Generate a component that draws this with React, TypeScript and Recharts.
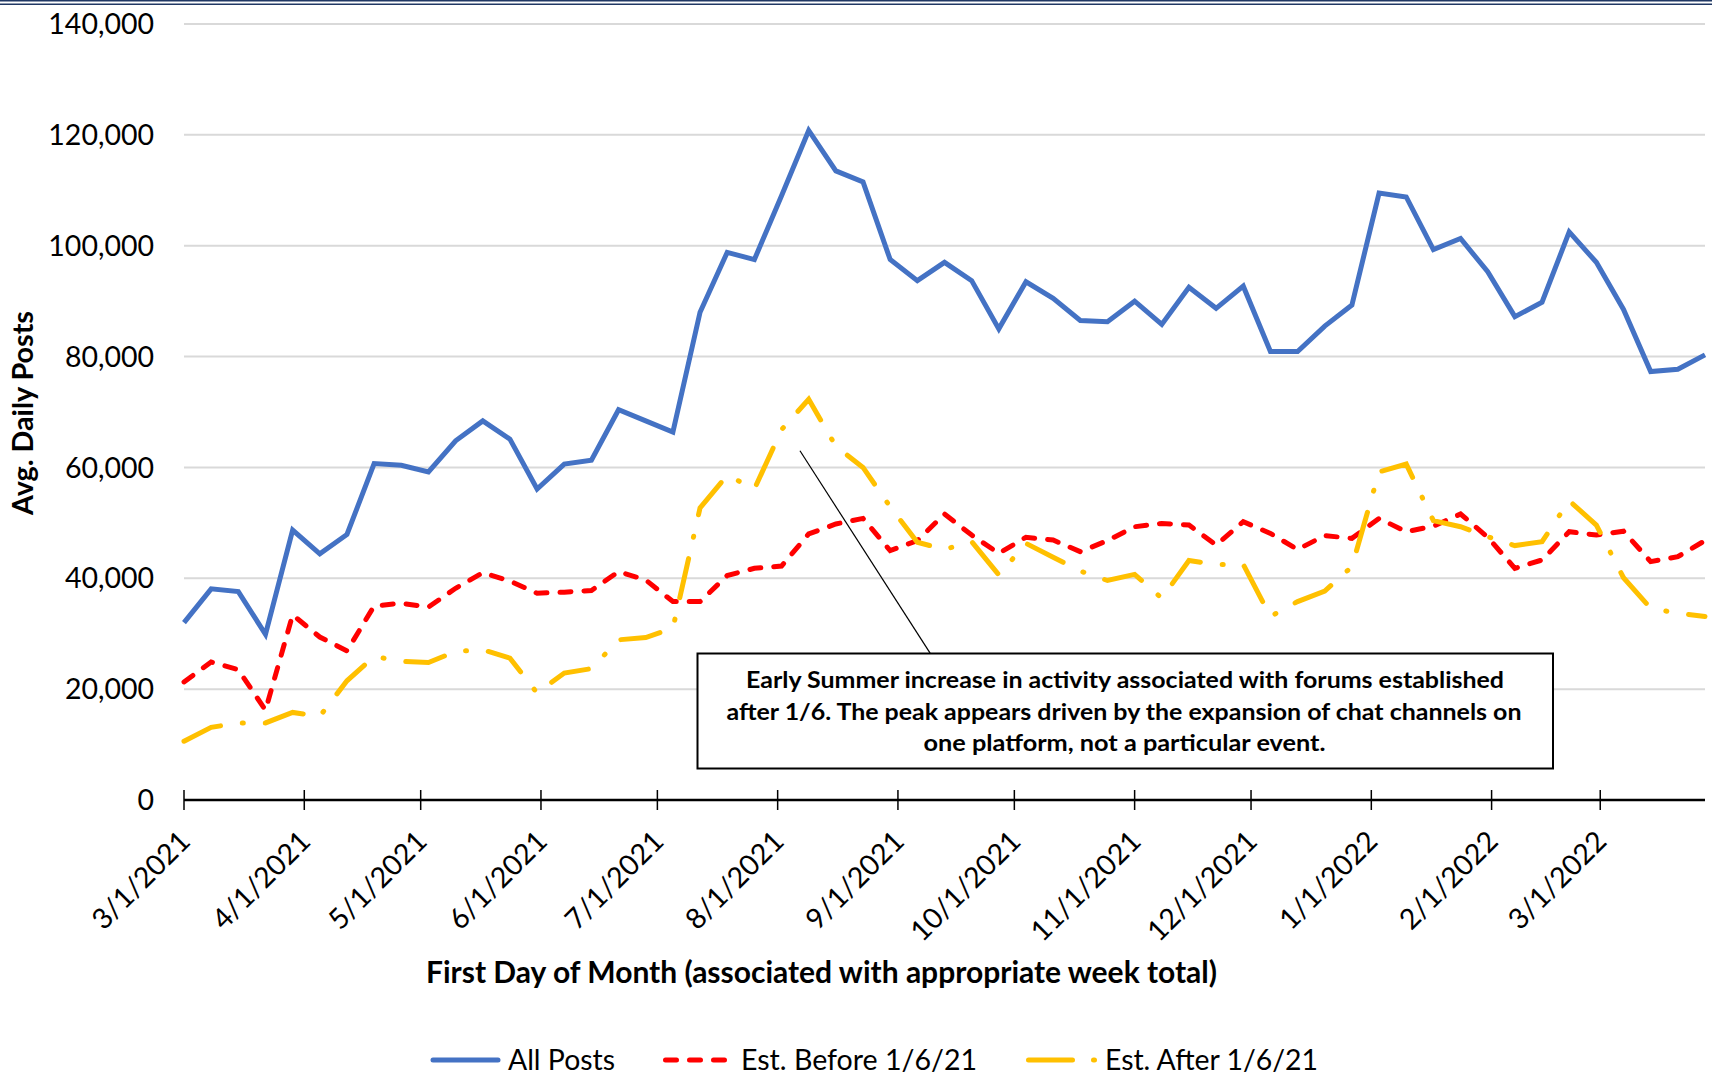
import { LineChart, Line, XAxis, YAxis, CartesianGrid, ReferenceLine } from 'recharts';

// weekly buckets (Mondays)
const WEEKS = [
  '2021-03-01', '2021-03-08', '2021-03-15', '2021-03-22', '2021-03-29',
  '2021-04-05', '2021-04-12', '2021-04-19', '2021-04-26',
  '2021-05-03', '2021-05-10', '2021-05-17', '2021-05-24', '2021-05-31',
  '2021-06-07', '2021-06-14', '2021-06-21', '2021-06-28',
  '2021-07-05', '2021-07-12', '2021-07-19', '2021-07-26',
  '2021-08-02', '2021-08-09', '2021-08-16', '2021-08-23', '2021-08-30',
  '2021-09-06', '2021-09-13', '2021-09-20', '2021-09-27',
  '2021-10-04', '2021-10-11', '2021-10-18', '2021-10-25',
  '2021-11-01', '2021-11-08', '2021-11-15', '2021-11-22', '2021-11-29',
  '2021-12-06', '2021-12-13', '2021-12-20', '2021-12-27',
  '2022-01-03', '2022-01-10', '2022-01-17', '2022-01-24', '2022-01-31',
  '2022-02-07', '2022-02-14', '2022-02-21', '2022-02-28',
  '2022-03-07', '2022-03-14', '2022-03-21', '2022-03-28',
];

const ALL_POSTS = [
  32000, 38100, 37600, 29900, 48700, 44400, 47900, 60700, 60400, 59200,
  64800, 68400, 65100, 56100, 60600, 61300, 70400, 68400, 66400, 88000,
  98800, 97500, 109000, 120800, 113500, 111500, 97500, 93700, 97000, 93700,
  85000, 93500, 90500, 86500, 86300, 90000, 85800, 92500, 88700, 92700,
  80900, 80900, 85500, 89300, 109500, 108800, 99300, 101300, 95300, 87200,
  89800, 102500, 97000, 88500, 77300, 77700, 80300,
];

const EST_BEFORE = [
  21300, 24900, 23500, 16200, 33400, 29400, 26900, 35000, 35500, 34800,
  38200, 41000, 39500, 37300, 37500, 37800, 41200, 39700, 35800, 35800,
  40500, 41800, 42200, 48000, 49800, 50800, 45000, 46800, 51600, 47800,
  44500, 47400, 46900, 44800, 46800, 49300, 49900, 49600, 46000, 50200,
  48100, 45200, 47700, 47200, 50800, 48400, 49400, 51600, 47400, 41800,
  43300, 48400, 47800, 48500, 43000, 43900, 46800,
];

const EST_AFTER = [
  10600, 13100, 13900, 13900, 15800, 15100, 21500, 25900, 25000, 24800,
  26800, 27100, 25600, 19300, 22900, 23700, 28900, 29300, 31000, 52700,
  58600, 56100, 66800, 72300, 63800, 60000, 52900, 46500, 45200, 46600,
  40600, 46300, 43800, 41300, 39600, 40700, 36400, 43200, 42500, 42500,
  33100, 35800, 37700, 42100, 59200, 60600, 50400, 49300, 47500, 45900,
  46600, 54000, 49600, 40100, 34600, 33700, 33100,
];

const MONTH_TICKS = [
  '2021-03-01', '2021-04-01', '2021-05-01', '2021-06-01', '2021-07-01',
  '2021-08-01', '2021-09-01', '2021-10-01', '2021-11-01', '2021-12-01',
  '2022-01-01', '2022-02-01', '2022-03-01',
];

const Y_TICKS = [0, 20000, 40000, 60000, 80000, 100000, 120000, 140000];

const FONT = 'Lato, "Open Sans", sans-serif';
const BLUE = '#4472C4';
const RED = '#FF0000';
const GOLD = '#FFC000';
const RED_DASH = '11 13';
const GOLD_DASH = '40 22 1 22';

const toTime = (d: string): number => Date.parse(`${d}T00:00:00Z`);

const data = WEEKS.map((week, i) => ({
  t: toTime(week),
  allPosts: ALL_POSTS[i],
  before: EST_BEFORE[i],
  after: EST_AFTER[i],
}));

function MonthTick(props: any) {
  const { x, y, payload } = props;
  const d = new Date(payload.value);
  const label = `${d.getUTCMonth() + 1}/${d.getUTCDate()}/${d.getUTCFullYear()}`;
  return (
    <g>
      <line x1={x} x2={x} y1={y - 10} y2={y + 10} stroke="#000" strokeWidth={1.5} />
      <text
        transform={`translate(${x + 8},${y + 43}) rotate(-45)`}
        textAnchor="end"
        fontSize={28.5}
        fontFamily={FONT}
        fill="#000"
      >
        {label}
      </text>
    </g>
  );
}

export default function App() {
  return (
    <div style={{ position: 'relative', width: 1712, height: 1081, background: '#fff', fontFamily: FONT }}>
      <style>{'body{margin:0}'}</style>
      <LineChart width={1712} height={1081} data={data} margin={{ top: 24, right: 7, bottom: 0, left: 0 }}>
        <CartesianGrid vertical={false} stroke="#d9d9d9" strokeWidth={2} />
        <XAxis
          dataKey="t"
          type="number"
          domain={[toTime('2021-03-01'), toTime('2022-03-28')]}
          ticks={MONTH_TICKS.map(toTime)}
          interval={0}
          tick={<MonthTick />}
          tickLine={false}
          tickSize={0}
          tickMargin={0}
          axisLine={{ stroke: '#000', strokeWidth: 2.5 }}
          height={281}
        />
        <YAxis
          domain={[0, 140000]}
          ticks={Y_TICKS}
          axisLine={false}
          tickLine={false}
          tickSize={0}
          tickMargin={30}
          width={184}
          tick={{ fill: '#000', fontSize: 28.5, fontFamily: FONT }}
          tickFormatter={(v: number) => v.toLocaleString('en-US')}
        />
        <Line
          dataKey="allPosts"
          stroke={BLUE}
          strokeWidth={5}
          dot={false}
          activeDot={false}
          type="linear"
          isAnimationActive={false}
        />
        <Line
          dataKey="before"
          stroke={RED}
          strokeWidth={5}
          strokeDasharray={RED_DASH}
          strokeLinecap="round"
          dot={false}
          activeDot={false}
          type="linear"
          isAnimationActive={false}
        />
        <Line
          dataKey="after"
          stroke={GOLD}
          strokeWidth={5}
          strokeDasharray={GOLD_DASH}
          strokeLinecap="round"
          dot={false}
          activeDot={false}
          type="linear"
          isAnimationActive={false}
        />
        <ReferenceLine
          segment={[
            { x: Date.parse('2021-08-06T18:00:00Z'), y: 63000 },
            { x: Date.parse('2021-09-09T07:00:00Z'), y: 26500 },
          ]}
          stroke="#000"
          strokeWidth={1.2}
        />
      </LineChart>

      <svg
        width={1712}
        height={1081}
        style={{ position: 'absolute', left: 0, top: 0, pointerEvents: 'none' }}
        fontFamily={FONT}
      >
        {/* double rule at the very top */}
        <rect x={0} y={0} width={1712} height={1.5} fill="#203864" />
        <rect x={0} y={3.5} width={1712} height={1.5} fill="#203864" />

        {/* axis titles */}
        <text
          transform="translate(33,413) rotate(-90)"
          textAnchor="middle"
          fontSize={28}
          fontWeight={700}
          textLength={204}
          lengthAdjust="spacingAndGlyphs"
        >
          Avg. Daily Posts
        </text>
        <text x={821.5} y={983} textAnchor="middle" fontSize={30} fontWeight={700} textLength={791} lengthAdjust="spacingAndGlyphs">
          First Day of Month (associated with appropriate week total)
        </text>

        {/* annotation */}
        <rect x={697.5} y={653.5} width={855.5} height={115} fill="#fff" stroke="#000" strokeWidth={2} />
        <g fontSize={23.5} fontWeight={700} textAnchor="middle">
          <text x={1125} y={688} textLength={758} lengthAdjust="spacingAndGlyphs">
            Early Summer increase in activity associated with forums established
          </text>
          <text x={1124} y={719.5} textLength={795} lengthAdjust="spacingAndGlyphs">
            after 1/6. The peak appears driven by the expansion of chat channels on
          </text>
          <text x={1124.5} y={751} textLength={402} lengthAdjust="spacingAndGlyphs">
            one platform, not a particular event.
          </text>
        </g>

        {/* legend */}
        <g fontSize={29}>
          <line x1={433} x2={498} y1={1060} y2={1060} stroke={BLUE} strokeWidth={5} strokeLinecap="round" />
          <text x={508} y={1070} textLength={107} lengthAdjust="spacingAndGlyphs">All Posts</text>
          <line x1={665.5} x2={726} y1={1060} y2={1060} stroke={RED} strokeWidth={5} strokeLinecap="round" strokeDasharray={RED_DASH} />
          <text x={741} y={1070} textLength={236} lengthAdjust="spacingAndGlyphs">Est. Before 1/6/21</text>
          <line x1={1028.5} x2={1095} y1={1060} y2={1060} stroke={GOLD} strokeWidth={5} strokeLinecap="round" strokeDasharray="44 21 1 21" />
          <text x={1105} y={1070} textLength={213} lengthAdjust="spacingAndGlyphs">Est. After 1/6/21</text>
        </g>
      </svg>
    </div>
  );
}
